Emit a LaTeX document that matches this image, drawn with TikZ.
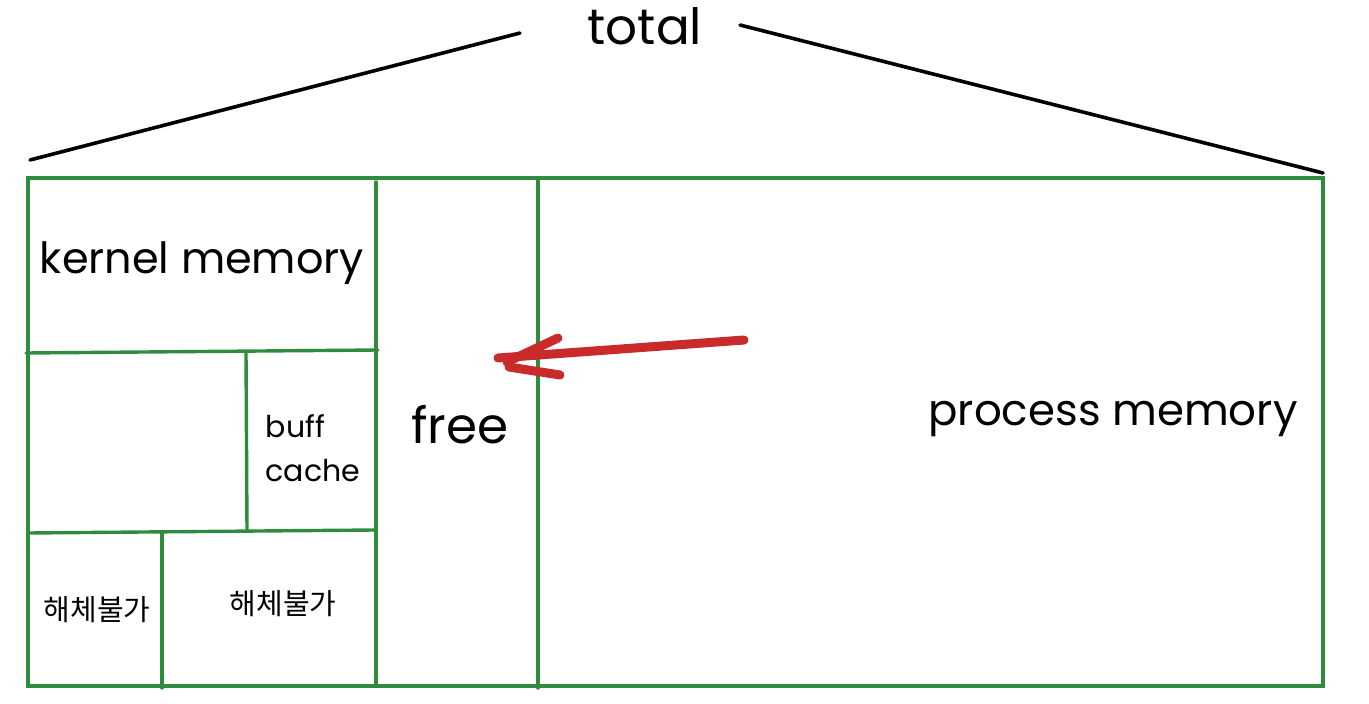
\documentclass[tikz,border=0pt]{standalone}
\usepackage{fontspec}
\setmainfont{Poppins}
\newfontfamily\krfont{Noto Sans CJK KR}
\definecolor{boxgreen}{RGB}{47,140,62}
\definecolor{arrowred}{RGB}{201,42,42}
\begin{document}
\begin{tikzpicture}[x=1pt,y=-1pt,
  grn/.style={draw=boxgreen,line width=3.4pt,line cap=round},
  blk/.style={draw=black,line width=3.6pt,line cap=round},
  redstroke/.style={draw=arrowred,line width=9pt,line cap=round,line join=round},
  lbl/.style={inner sep=0pt,text=black},
  kr/.style={inner sep=0pt,font=\krfont\fontsize{29}{32}\selectfont}]
\useasboundingbox (0,0) rectangle (1369,704);
% corners of the frame
\coordinate (TL) at (28,178);
\coordinate (TR) at (1323,178);
\coordinate (BL) at (28,686);
\coordinate (BR) at (1323,686);
\coordinate (k1) at (376,182);
\coordinate (k2) at (376,686);
\coordinate (f1) at (538,178);
\coordinate (f2) at (538,688);
\coordinate (h1a) at (26,353);
\coordinate (h1b) at (378,350);
\coordinate (v1a) at (246,352);
\coordinate (v1b) at (247,531);
\coordinate (h2a) at (28,533);
\coordinate (h2b) at (374,530);
\coordinate (v2a) at (162,533);
\coordinate (v2b) at (162,688);
% frame
\draw[grn] (TL) -- (TR) -- (BR) -- (BL) -- cycle;
\draw[grn] (k1) -- (k2);
\draw[grn] (f1) -- (f2);
\draw[grn] (h1a) -- (h1b);
\draw[grn] (v1a) -- (v1b);
\draw[grn] (h2a) -- (h2b);
\draw[grn] (v2a) -- (v2b);
% total
\node[lbl,font=\fontsize{50}{56}\selectfont] (total) at (645,26) {total};
\coordinate (la) at (30,160);
\coordinate (lb) at (520,33);
\coordinate (ra) at (740,25);
\coordinate (rb) at (1323,173);
\draw[blk] (la) -- (lb);
\draw[blk] (ra) -- (rb);
% labels
\node[lbl,font=\fontsize{43}{50}\selectfont] (kernel) at (202,263) {kernel memory};
\node[lbl,font=\fontsize{30}{44}\selectfont,align=left] (buff) at (313,448) {buff\\cache};
\node[lbl,font=\fontsize{50}{56}\selectfont] (free) at (460,425) {free};
\node[lbl,font=\fontsize{43.5}{50}\selectfont] (proc) at (1113,419) {process memory};
\node[kr] (nf1) at (97,610) {해체불가};
\node[kr] (nf2) at (283,604) {해체불가};
% red arrow
\coordinate (as) at (744,340);
\coordinate (ae) at (498,358);
\coordinate (b1s) at (558,338);
\coordinate (b1e) at (507,362);
\coordinate (b2s) at (560,375);
\coordinate (b2e) at (509,367);
\draw[redstroke] (as) -- (ae);
\draw[redstroke] (b1s) -- (b1e);
\draw[redstroke] (b2s) -- (b2e);
\end{tikzpicture}
\end{document}
